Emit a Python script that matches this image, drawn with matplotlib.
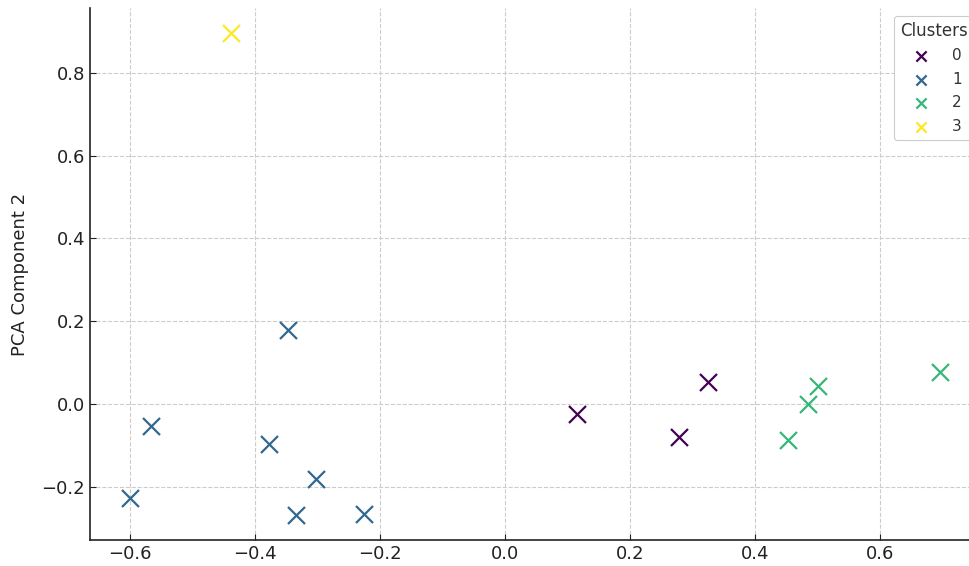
import matplotlib.pyplot as plt
import numpy as np

# PCA projections, one list per cluster
pc1_c0 = [0.115, 0.278, 0.326]
pc2_c0 = [-0.024, -0.080, 0.053]
pc1_c1 = [-0.347, -0.566, -0.600, -0.378, -0.302, -0.334, -0.226]
pc2_c1 = [0.179, -0.053, -0.227, -0.097, -0.181, -0.268, -0.266]
pc1_c2 = [0.453, 0.486, 0.502, 0.696]
pc2_c2 = [-0.087, 0.000, 0.044, 0.077]
pc1_c3 = [-0.438]
pc2_c3 = [0.897]
cluster_labels = ['0', '1', '2', '3']

xs = [pc1_c0, pc1_c1, pc1_c2, pc1_c3]
ys = [pc2_c0, pc2_c1, pc2_c2, pc2_c3]
colors = plt.cm.viridis(np.linspace(0, 1, 4))

fig = plt.figure(figsize=(9.7, 5.66), dpi=100)
ax = fig.add_axes([0.0928, 0.046, 0.93, 0.94])

for x, y, c, lab in zip(xs, ys, colors, cluster_labels):
    ax.scatter(x, y, marker='x', s=150, linewidths=1.6, color=c, label=lab, zorder=3)

ax.set_xlim(-0.664, 0.78)
ax.set_ylim(-0.329, 0.957)
ax.set_xticks([-0.6, -0.4, -0.2, 0.0, 0.2, 0.4, 0.6])
ax.set_yticks([-0.2, 0.0, 0.2, 0.4, 0.6, 0.8])
ax.set_ylabel('PCA Component 2', fontsize=13, color='#222222', labelpad=9)
ax.tick_params(labelsize=13, direction='in', length=4, colors='#222222')
ax.grid(True, linestyle='--', color='#cccccc', linewidth=0.8)
ax.set_axisbelow(True)
for side in ['top', 'right']:
    ax.spines[side].set_visible(False)
for side in ['left', 'bottom']:
    ax.spines[side].set_linewidth(1.2)
    ax.spines[side].set_color('#222222')

leg = ax.legend(title='Clusters', loc='upper left', bbox_to_anchor=(0.891, 0.985),
                borderaxespad=0, fontsize=11, title_fontsize=12, markerscale=0.6,
                handletextpad=1.0, labelspacing=0.55,
                framealpha=1.0, edgecolor='#cccccc')
leg.get_frame().set_linewidth(0.8)
for t in leg.get_texts():
    t.set_color('#333333')
leg.get_title().set_color('#333333')

fig.savefig('out.png', dpi=100)
